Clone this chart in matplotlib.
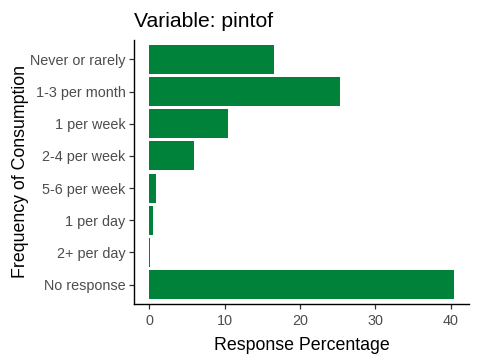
import matplotlib
matplotlib.use("Agg")
import matplotlib.pyplot as plt

plt.rcParams['font.family'] = ['Liberation Sans', 'DejaVu Sans']

categories = ["Never or rarely", "1-3 per month", "1 per week", "2-4 per week",
              "5-6 per week", "1 per day", "2+ per day", "No response"]
percent = [16.6, 25.3, 10.4, 5.9, 0.85, 0.45, 0.1, 40.4]
xticks = [0, 10, 20, 30, 40]

bar_color = "#00823B"

fig = plt.figure(figsize=(4.8, 3.6), dpi=100)
ax = fig.add_axes([0.2792, 0.1556, 0.698, 0.7333])

pos = list(range(len(categories)))
ax.barh(pos, percent, height=0.9, color=bar_color)

ax.set_ylim(len(categories) - 0.4, -0.6)
ax.set_xlim(-0.05 * max(percent), max(percent) * 1.05)
ax.set_yticks(pos)
ax.set_yticklabels(categories)
ax.set_xticks(xticks)

for s in ["top", "right"]:
    ax.spines[s].set_visible(False)
for s in ["left", "bottom"]:
    ax.spines[s].set_linewidth(1.0)
    ax.spines[s].set_color("black")

ax.tick_params(axis="both", colors="#333333", labelcolor="#4D4D4D",
               labelsize=10.4, length=3.5, width=0.9, pad=2.5)
ax.tick_params(axis="x", pad=4)

ax.set_xlabel("Response Percentage", fontsize=12.8, color="black", labelpad=6)
ax.set_ylabel("Frequency of Consumption", fontsize=12.8, color="black", labelpad=1)
ax.set_title("Variable: pintof", fontsize=15.2, loc="left", pad=9, color="black")

fig.savefig("out.png", dpi=100)
